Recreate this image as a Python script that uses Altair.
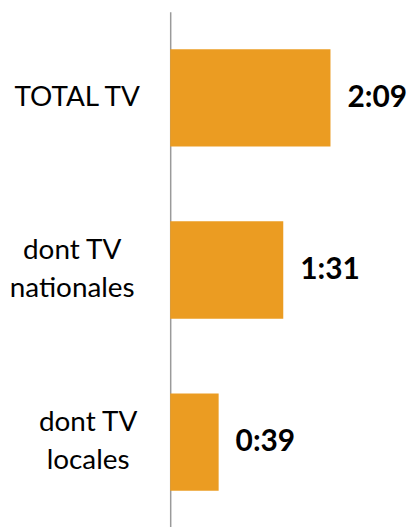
import altair as alt
import pandas as pd

categories = ["TOTAL TV", "dont TV|nationales", "dont TV|locales"]
minutes = [129, 91, 39]

df = pd.DataFrame({"cat": categories, "minutes": minutes})

FONT = "Lato"

y = alt.Y(
    "cat:N",
    sort=None,
    title=None,
    scale=alt.Scale(paddingInner=0.434, paddingOuter=0.217),
    axis=alt.Axis(
        ticks=False,
        domainColor="#9a9a9a",
        domainWidth=1.5,
        labelFont=FONT,
        labelFontSize=28,
        labelColor="#000000",
        labelAlign="center",
        labelBaseline="middle",
        labelLineHeight=38,
        labelExpr="split(datum.label, '|')",
        labelOffset={
            "condition": {"test": "datum.value == 'TOTAL TV'", "value": 0},
            "value": -19,
        },
        labelPadding={
            "condition": [
                {"test": "datum.value == 'dont TV|nationales'", "value": 99},
                {"test": "datum.value == 'dont TV|locales'", "value": 83},
            ],
            "value": 94,
        },
    ),
)

x = alt.X(
    "minutes:Q",
    scale=alt.Scale(domain=[0, 193], nice=False),
    axis=None,
)

base = alt.Chart(df).encode(y=y, x=x)

bars = base.mark_bar(color="#EB9C22")

labels = base.transform_calculate(
    lab="floor(datum.minutes/60) + ':' + (datum.minutes % 60 < 10 ? '0' : '') + (datum.minutes % 60)"
).mark_text(
    align="left",
    baseline="middle",
    dx=17,
    font=FONT,
    fontSize=30,
    fontWeight="bold",
    color="#000000",
).encode(text="lab:N")

chart = (
    (bars + labels)
    .properties(
        width=241,
        height=519,
        autosize=alt.AutoSizeParams(type="none"),
        padding={"left": 163, "top": 2.5, "right": 0, "bottom": 0},
    )
    .configure_view(stroke=None)
)

chart.save("out.html", embed_options={"renderer": "svg", "actions": False})
